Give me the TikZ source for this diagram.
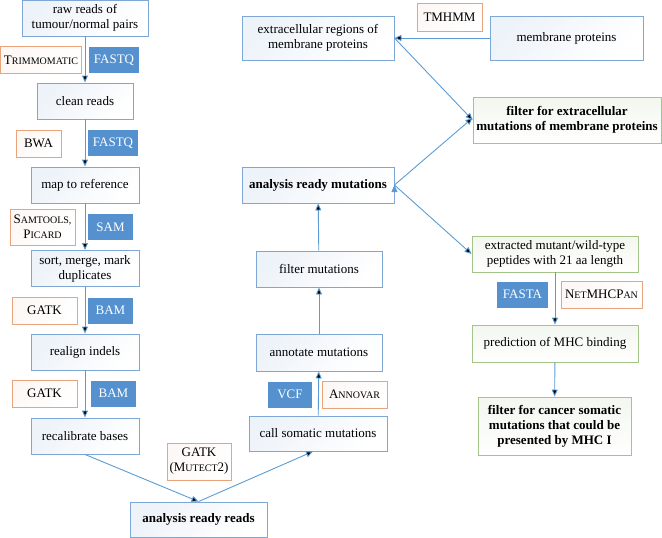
\documentclass[tikz,border=0pt]{standalone}
\usepackage{fontspec}
\setmainfont{Liberation Serif}
\usetikzlibrary{arrows.meta}
\definecolor{boxblue}{HTML}{7FA7D5}
\definecolor{arrowblue}{HTML}{5B9BD5}
\definecolor{tagblue}{HTML}{5591CF}
\definecolor{boxgreen}{HTML}{A3C58A}
\definecolor{toolorange}{HTML}{E9A47C}
\newcommand{\smc}[2]{#1{\fontsize{10}{10}\selectfont #2}}

\begin{document}
\begin{tikzpicture}[
    x=1pt, y=-1pt,
    every node/.style={font=\rmfamily\fontsize{13}{15}\selectfont, align=center, inner sep=2pt},
    stage/.style={draw=boxblue, line width=0.9pt, minimum height=36pt,
        top color=boxblue!14, bottom color=white, shading angle=45},
    ready/.style={stage, font=\rmfamily\fontsize{13}{15}\selectfont\bfseries},
    hit/.style={stage, draw=boxgreen, top color=boxgreen!14},
    besthit/.style={hit, font=\rmfamily\fontsize{13}{15}\selectfont\bfseries},
    tool/.style={draw=toolorange, line width=0.9pt, minimum height=27pt,
        top color=toolorange!8, bottom color=white, shading angle=45},
    format/.style={fill=tagblue, text=white, minimum height=26pt},
    flow/.style={->, draw=arrowblue, line width=0.9pt},
    >={Triangle[length=7pt, width=6pt]}
]
   \useasboundingbox (0,0) rectangle (662,538);

   % Reads
   \node[stage, minimum width=126pt] (raw) at (85,18) {raw reads of\\tumour/normal pairs};
   \node[stage, minimum width=96pt] (clean) at (85,101) {clean reads};
   \node[stage, minimum width=108pt] (map) at (85,185) {map to reference};
   \node[stage, minimum width=108pt] (sort) at (85,268.5) {sort, merge, mark\\duplicates};
   \node[stage, minimum width=108pt] (realign) at (85,352) {realign indels};
   \node[stage, minimum width=108pt] (recal) at (85,436) {recalibrate bases};
   \node[ready, minimum width=137pt, minimum height=35pt] (readyreads) at (198.5,519.5) {analysis ready reads};

   % Mutations
   \node[stage, minimum width=138pt, minimum height=35pt] (call) at (318,433.5) {call somatic mutations};
   \node[stage, minimum width=126pt, minimum height=37pt] (annot) at (319,352.5) {annotate mutations};
   \node[stage, minimum width=126pt] (filtmut) at (319,269) {filter mutations};
   \node[ready, minimum width=152pt] (readymut) at (318,185) {analysis ready mutations};
   \node[stage, minimum width=152pt, minimum height=44pt] (extra) at (318,38) {extracellular regions of\\membrane proteins};
   \node[stage, minimum width=153pt, minimum height=44pt] (memb) at (566.5,38) {membrane proteins};

   % Candidates
   \node[besthit, minimum width=188pt, minimum height=46pt] (filtextra) at (567,120) {filter for extracellular\\mutations of membrane proteins};
   \node[hit, minimum width=166pt] (pept) at (555,254) {extracted mutant/wild-type\\peptides with 21 aa length};
   \node[hit, minimum width=166pt, minimum height=37pt] (pred) at (555,343.5) {prediction of MHC binding};
   \node[besthit, minimum width=153pt, minimum height=58pt] (filtcancer) at (554.5,426) {filter for cancer somatic\\mutations that could be\\presented by MHC I};

   % Tools and formats
   \node[tool, minimum width=81pt] (trim) at (41,60) {\smc{T}{RIMMOMATIC}};
   \node[format, minimum width=50pt] (fastqA) at (114,60) {FASTQ};
   \node[tool, minimum width=45pt] (bwa) at (38.5,143.5) {BWA};
   \node[format, minimum width=50pt] (fastqB) at (113,143) {FASTQ};
   \node[tool, minimum width=65pt, minimum height=36pt] (samtools) at (42.5,227) {\smc{S}{AMTOOLS,}\\\smc{P}{ICARD}};
   \node[format, minimum width=45pt] (sam) at (110.5,227) {SAM};
   \node[tool, minimum width=65pt] (gatkA) at (44.5,310.5) {GATK};
   \node[format, minimum width=45pt] (bamA) at (110.5,310.5) {BAM};
   \node[tool, minimum width=65pt] (gatkB) at (44.5,393.5) {GATK};
   \node[format, minimum width=45pt] (bamB) at (113.5,393.5) {BAM};
   \node[tool, minimum width=64pt, minimum height=37pt] (mutect) at (199,461.5) {GATK\\(\smc{M}{UTECT}2)};
   \node[format, minimum width=44pt] (vcf) at (290,394.5) {VCF};
   \node[tool, minimum width=65pt] (annovar) at (354.5,394.5) {\smc{A}{NNOVAR}};
   \node[tool, minimum width=65pt, minimum height=28pt] (tmhmm) at (449.5,17) {TMHMM};
   \node[format, minimum width=51pt] (fasta) at (522.5,294.5) {FASTA};
   \node[tool, minimum width=81pt] (netmhc) at (601.5,294.5) {\smc{N}{ET}MHC\smc{P}{AN}};

   % Connections
   \path[flow]
   (raw) edge (clean)
   (clean) edge (map)
   (map) edge (sort)
   (sort) edge (realign)
   (realign) edge (recal)
   (recal.south) edge (readyreads.north)
   (readyreads.north) edge ([xshift=-5pt]call.south)
   (call) edge (annot)
   (annot) edge (filtmut)
   (filtmut) edge (readymut)
   (memb) edge (extra)
   (extra.east) edge (filtextra.west)
   (readymut.east) edge ([yshift=2pt]filtextra.west)
   (readymut.east) edge (pept.west)
   (pept) edge (pred)
   (pred) edge (filtcancer);
\end{tikzpicture}
\end{document}
